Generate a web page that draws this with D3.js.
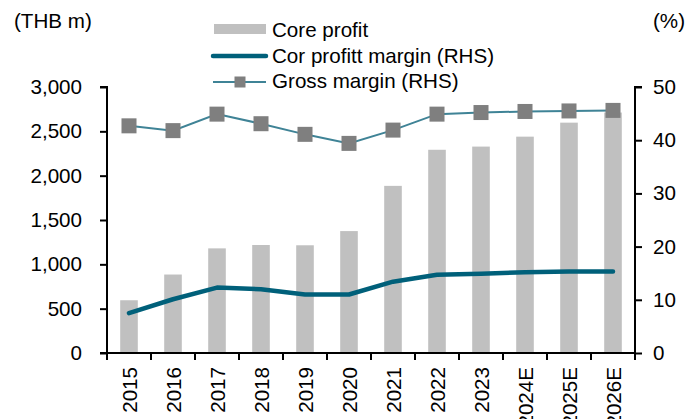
<!DOCTYPE html>
<html><head><meta charset="utf-8">
<script src="https://cdn.jsdelivr.net/npm/d3@7"></script>
<style>body{margin:0;background:#fff}svg text{font-family:Arial,"Liberation Sans",sans-serif}</style>
</head><body><svg id="c" width="699" height="419"></svg>
<script>
const categories = ["2015","2016","2017","2018","2019","2020","2021","2022","2023","2024E","2025E","2026E"];
const coreProfit = [595, 885, 1180, 1218, 1215, 1375, 1885, 2292, 2328, 2440, 2598, 2712];
const coreProfitMargin = [7.5, 10.1, 12.3, 12.0, 11.0, 11.0, 13.4, 14.7, 14.9, 15.2, 15.3, 15.3];
const grossMargin = [42.7, 41.8, 44.9, 43.1, 41.1, 39.4, 41.9, 44.9, 45.2, 45.4, 45.5, 45.6];
const leftTicks = [0, 500, 1000, 1500, 2000, 2500, 3000];
const rightTicks = [0, 10, 20, 30, 40, 50];
const legendLabels = ["Core profit", "Cor profitt margin (RHS)", "Gross margin (RHS)"];

const svg = d3.select("#c");
const L = 107, R = 635, T = 87, B = 353;
const fs = 20.6;
const xb = d3.scaleBand().domain(categories).range([L, R]);
const yL = d3.scaleLinear().domain([0, 3000]).range([B, T]);
const yR = d3.scaleLinear().domain([0, 50]).range([B, T]);

// bars
svg.append("g").selectAll("rect").data(coreProfit).join("rect")
  .attr("x", (d, i) => xb(categories[i]) + xb.bandwidth() * 0.3)
  .attr("width", xb.bandwidth() * 0.4)
  .attr("y", d => yL(d)).attr("height", d => B - yL(d))
  .attr("fill", "#c0c0c0");

const cx = i => xb(categories[i]) + xb.bandwidth() / 2;

// core profit margin
svg.append("path").datum(coreProfitMargin)
  .attr("d", d3.line().x((d, i) => cx(i)).y(d => yR(d)))
  .attr("fill", "none").attr("stroke", "#00607a").attr("stroke-width", 4.5)
  .attr("stroke-linecap", "round").attr("stroke-linejoin", "round");

// gross margin
svg.append("path").datum(grossMargin)
  .attr("d", d3.line().x((d, i) => cx(i)).y(d => yR(d)))
  .attr("fill", "none").attr("stroke", "#3f8396").attr("stroke-width", 2);
const ms = 15;
svg.append("g").selectAll("rect").data(grossMargin).join("rect")
  .attr("x", (d, i) => cx(i) - ms / 2).attr("y", d => yR(d) - ms / 2)
  .attr("width", ms).attr("height", ms).attr("fill", "#7f7f7f");

// axes
const axL = svg.append("g").attr("transform", `translate(${L},0)`)
  .call(d3.axisLeft(yL).tickValues(leftTicks).tickFormat(d3.format(",")).tickSize(7).tickPadding(18));
const axR = svg.append("g").attr("transform", `translate(${R},0)`)
  .call(d3.axisRight(yR).tickValues(rightTicks).tickSize(7).tickPadding(11));
[axL, axR].forEach(a => {
  a.select(".domain").attr("stroke", "#000").attr("stroke-width", 2);
  a.selectAll(".tick line").attr("stroke", "#000").attr("stroke-width", 2);
  a.selectAll("text").attr("font-size", fs).attr("fill", "#000").attr("font-family", "Arial, 'Liberation Sans', sans-serif");
});
axL.select(".domain").attr("d", `M-7,${T}H0V${B}`);
axR.select(".domain").attr("d", `M7,${T}H0V${B}`);

// x axis
const gx = svg.append("g");
gx.append("line").attr("x1", L - 7).attr("x2", R).attr("y1", B).attr("y2", B).attr("stroke", "#000").attr("stroke-width", 2);
const bounds = categories.map(c => xb(c)).concat([R]);
gx.selectAll("line.t").data(bounds).join("line").attr("class", "t")
  .attr("x1", d => d).attr("x2", d => d).attr("y1", B).attr("y2", B + 7)
  .attr("stroke", "#000").attr("stroke-width", 2);
gx.selectAll("text").data(categories).join("text")
  .attr("transform", (d, i) => `translate(${cx(i) + 7.5},${B + 14}) rotate(-90)`)
  .attr("text-anchor", "end").attr("font-size", fs).attr("fill", "#000").text(d => d);

// axis titles
svg.append("text").attr("x", 14).attr("y", 28).attr("font-size", fs).text("(THB m)");
svg.append("text").attr("x", 653).attr("y", 28).attr("font-size", fs).text("(%)");

// legend
const lg = svg.append("g");
lg.append("rect").attr("x", 214).attr("y", 24).attr("width", 52).attr("height", 10).attr("fill", "#c0c0c0");
lg.append("line").attr("x1", 213).attr("x2", 266).attr("y1", 56).attr("y2", 56)
  .attr("stroke", "#00607a").attr("stroke-width", 4.5).attr("stroke-linecap", "round");
lg.append("line").attr("x1", 213).attr("x2", 266).attr("y1", 82).attr("y2", 82)
  .attr("stroke", "#3f8396").attr("stroke-width", 2);
lg.append("rect").attr("x", 240 - 5.5).attr("y", 82 - 5.5).attr("width", 11).attr("height", 11).attr("fill", "#7f7f7f");
const ly = [37, 62.5, 88];
lg.selectAll("text").data(legendLabels).join("text")
  .attr("x", 272).attr("y", (d, i) => ly[i]).attr("font-size", fs).attr("fill", "#000").text(d => d);
</script></body></html>
